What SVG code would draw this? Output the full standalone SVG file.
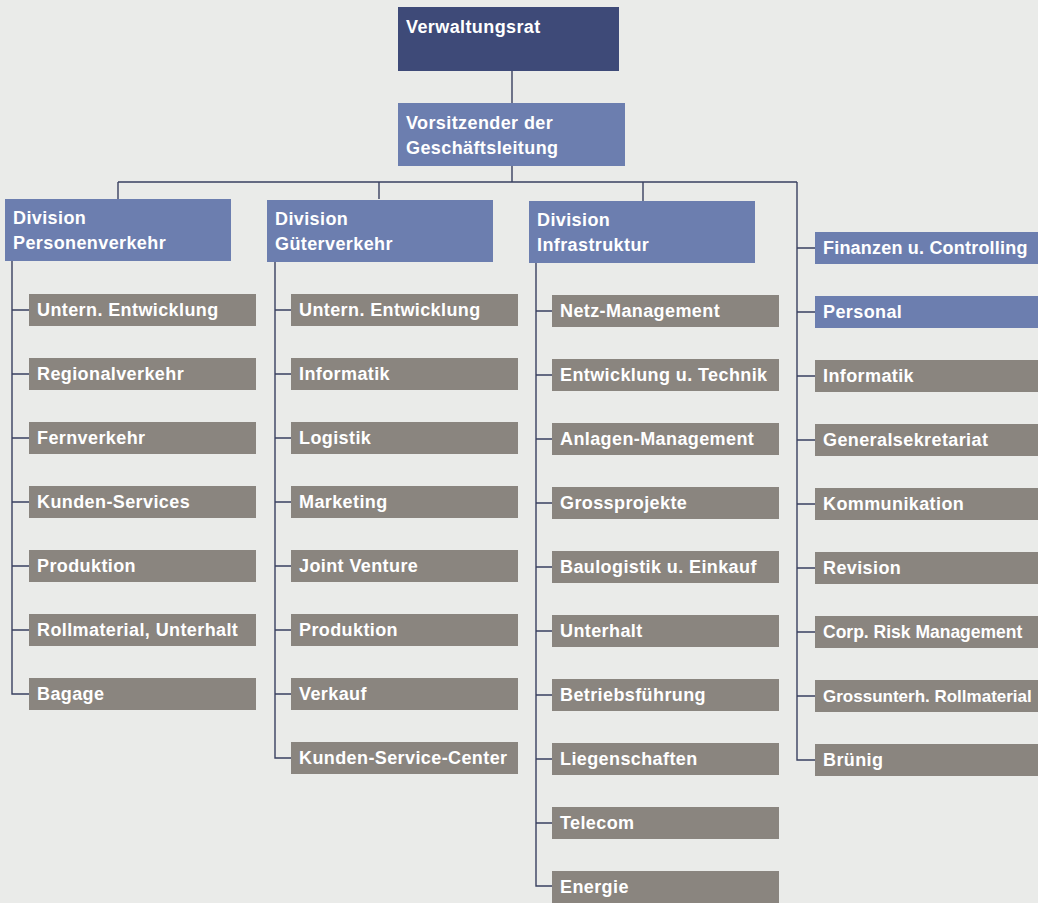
<svg xmlns="http://www.w3.org/2000/svg" width="1038" height="903" viewBox="0 0 1038 903">
<style>
.t{font-family:"Liberation Sans",Arial,sans-serif;font-weight:bold;font-size:18px;fill:#ffffff;letter-spacing:0.4px}
.tn{font-size:17px;letter-spacing:0px}
.dark{fill:#3e4a78}
.blue{fill:#6c7eaf}
.gray{fill:#8a857f}
.ln{stroke:#394060;stroke-width:1.4;fill:none}
</style>
<rect x="0" y="0" width="1038" height="903" fill="#eaebe9"/>
<g id="connectors" class="ln">
<path d="M512 71V103M512 166V182M118 182H797M118 182V199M379 182V199M643 182V201"/>
<path d="M12 261V694H29M12 310H29M12 374H29M12 438H29M12 502H29M12 566H29M12 630H29"/>
<path d="M275 262V758H291M275 310H291M275 374H291M275 438H291M275 502H291M275 566H291M275 630H291M275 694H291"/>
<path d="M536 263V886H552M536 311H552M536 375H552M536 439H552M536 503H552M536 567H552M536 631H552M536 695H552M536 759H552M536 823H552"/>
<path d="M797 182V760H815M797 248H815M797 312H815M797 376H815M797 440H815M797 504H815M797 568H815M797 632H815M797 696H815"/>
</g>
<g id="verwaltungsrat"><rect class="dark" x="398" y="7" width="221" height="64"/><text class="t" x="406" y="33">Verwaltungsrat</text></g>
<g id="vorsitzender"><rect class="blue" x="398" y="103" width="227" height="63"/><text class="t" x="406" y="129">Vorsitzender der</text><text class="t" x="406" y="154">Geschäftsleitung</text></g>
<g id="div-personen"><rect class="blue" x="5" y="199" width="226" height="62"/><text class="t" x="13" y="224">Division</text><text class="t" x="13" y="249">Personenverkehr</text></g>
<g id="div-gueter"><rect class="blue" x="267" y="200" width="226" height="62"/><text class="t" x="275" y="225">Division</text><text class="t" x="275" y="250">Güterverkehr</text></g>
<g id="div-infra"><rect class="blue" x="529" y="201" width="226" height="62"/><text class="t" x="537" y="226">Division</text><text class="t" x="537" y="251">Infrastruktur</text></g>
<g id="p1"><rect class="gray" x="29" y="294" width="227" height="32"/><text class="t" x="37" y="316">Untern. Entwicklung</text></g>
<g id="p2"><rect class="gray" x="29" y="358" width="227" height="32"/><text class="t" x="37" y="380">Regionalverkehr</text></g>
<g id="p3"><rect class="gray" x="29" y="422" width="227" height="32"/><text class="t" x="37" y="444">Fernverkehr</text></g>
<g id="p4"><rect class="gray" x="29" y="486" width="227" height="32"/><text class="t" x="37" y="508">Kunden-Services</text></g>
<g id="p5"><rect class="gray" x="29" y="550" width="227" height="32"/><text class="t" x="37" y="572">Produktion</text></g>
<g id="p6"><rect class="gray" x="29" y="614" width="227" height="32"/><text class="t" x="37" y="636">Rollmaterial, Unterhalt</text></g>
<g id="p7"><rect class="gray" x="29" y="678" width="227" height="32"/><text class="t" x="37" y="700">Bagage</text></g>
<g id="g1"><rect class="gray" x="291" y="294" width="227" height="32"/><text class="t" x="299" y="316">Untern. Entwicklung</text></g>
<g id="g2"><rect class="gray" x="291" y="358" width="227" height="32"/><text class="t" x="299" y="380">Informatik</text></g>
<g id="g3"><rect class="gray" x="291" y="422" width="227" height="32"/><text class="t" x="299" y="444">Logistik</text></g>
<g id="g4"><rect class="gray" x="291" y="486" width="227" height="32"/><text class="t" x="299" y="508">Marketing</text></g>
<g id="g5"><rect class="gray" x="291" y="550" width="227" height="32"/><text class="t" x="299" y="572">Joint Venture</text></g>
<g id="g6"><rect class="gray" x="291" y="614" width="227" height="32"/><text class="t" x="299" y="636">Produktion</text></g>
<g id="g7"><rect class="gray" x="291" y="678" width="227" height="32"/><text class="t" x="299" y="700">Verkauf</text></g>
<g id="g8"><rect class="gray" x="291" y="742" width="227" height="32"/><text class="t" x="299" y="764">Kunden-Service-Center</text></g>
<g id="i1"><rect class="gray" x="552" y="295" width="227" height="32"/><text class="t" x="560" y="317">Netz-Management</text></g>
<g id="i2"><rect class="gray" x="552" y="359" width="227" height="32"/><text class="t" x="560" y="381">Entwicklung u. Technik</text></g>
<g id="i3"><rect class="gray" x="552" y="423" width="227" height="32"/><text class="t" x="560" y="445">Anlagen-Management</text></g>
<g id="i4"><rect class="gray" x="552" y="487" width="227" height="32"/><text class="t" x="560" y="509">Grossprojekte</text></g>
<g id="i5"><rect class="gray" x="552" y="551" width="227" height="32"/><text class="t" x="560" y="573">Baulogistik u. Einkauf</text></g>
<g id="i6"><rect class="gray" x="552" y="615" width="227" height="32"/><text class="t" x="560" y="637">Unterhalt</text></g>
<g id="i7"><rect class="gray" x="552" y="679" width="227" height="32"/><text class="t" x="560" y="701">Betriebsführung</text></g>
<g id="i8"><rect class="gray" x="552" y="743" width="227" height="32"/><text class="t" x="560" y="765">Liegenschaften</text></g>
<g id="i9"><rect class="gray" x="552" y="807" width="227" height="32"/><text class="t" x="560" y="829">Telecom</text></g>
<g id="i10"><rect class="gray" x="552" y="871" width="227" height="32"/><text class="t" x="560" y="893">Energie</text></g>
<g id="s1"><rect class="blue" x="815" y="232" width="240" height="32"/><text class="t" x="823" y="254" style="letter-spacing:0.2px">Finanzen u. Controlling</text></g>
<g id="s2"><rect class="blue" x="815" y="296" width="240" height="32"/><text class="t" x="823" y="318">Personal</text></g>
<g id="s3"><rect class="gray" x="815" y="360" width="240" height="32"/><text class="t" x="823" y="382">Informatik</text></g>
<g id="s4"><rect class="gray" x="815" y="424" width="240" height="32"/><text class="t" x="823" y="446">Generalsekretariat</text></g>
<g id="s5"><rect class="gray" x="815" y="488" width="240" height="32"/><text class="t" x="823" y="510">Kommunikation</text></g>
<g id="s6"><rect class="gray" x="815" y="552" width="240" height="32"/><text class="t" x="823" y="574">Revision</text></g>
<g id="s7"><rect class="gray" x="815" y="616" width="240" height="32"/><text class="t tn" x="823" y="638" style="font-size:17.5px">Corp. Risk Management</text></g>
<g id="s8"><rect class="gray" x="815" y="680" width="240" height="32"/><text class="t tn" x="823" y="702">Grossunterh. Rollmaterial</text></g>
<g id="s9"><rect class="gray" x="815" y="744" width="240" height="32"/><text class="t" x="823" y="766">Brünig</text></g>
</svg>
